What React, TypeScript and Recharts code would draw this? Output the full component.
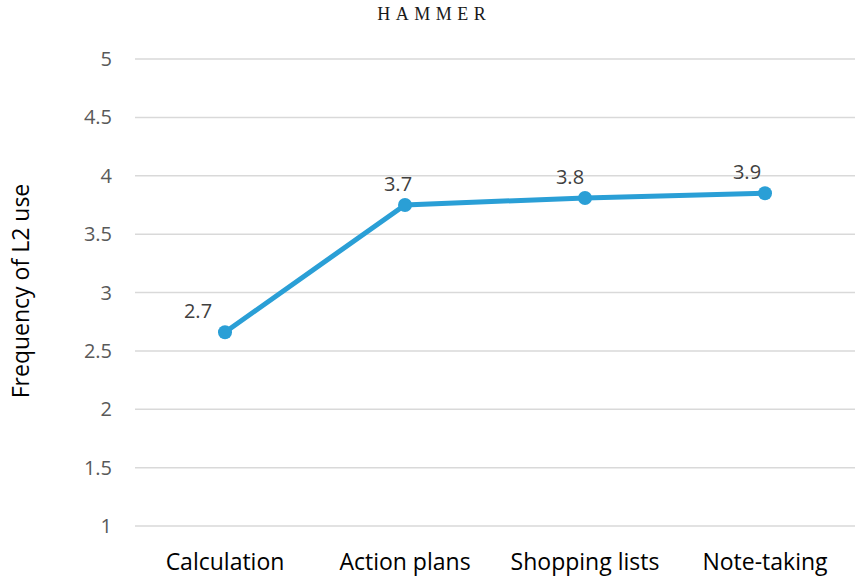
import { LineChart, Line, XAxis, YAxis, CartesianGrid, LabelList } from 'recharts';

const categories = ['Calculation', 'Action plans', 'Shopping lists', 'Note-taking'];
const frequency = [2.66, 3.75, 3.81, 3.85];
const valueLabels = ['2.7', '3.7', '3.8', '3.9'];
const yTicks = [1, 1.5, 2, 2.5, 3, 3.5, 4, 4.5, 5];

// horizontal nudge of each data label, like the original's placement
const labelShift = [-27, -7, -15, -18];

const data = categories.map((name, i) => ({ name, frequency: frequency[i], label: valueLabels[i] }));

const FONT = '"Open Sans", "Noto Sans", sans-serif';

export default function App() {
  const renderValue = (props: any) => {
    const { x, y, index } = props;
    return (
      <text
        x={x + labelShift[index]}
        y={y - 14}
        textAnchor="middle"
        fontSize={20}
        fontFamily={FONT}
        fill="#404040"
      >
        {valueLabels[index]}
      </text>
    );
  };

  const renderYLabel = () => (
    <text
      transform="translate(29, 291) rotate(-90)"
      textAnchor="middle"
      fontSize={23}
      fontFamily={FONT}
      fill="#000"
    >
      Frequency of L2 use
    </text>
  );

  return (
    <div style={{ position: 'absolute', top: 0, left: 0, width: 855, height: 577, background: '#fff' }}>
      <div
        style={{
          position: 'absolute',
          top: 5,
          left: 4,
          width: 855,
          textAlign: 'center',
          fontFamily: '"Liberation Serif", "DejaVu Serif", serif',
          fontSize: 18,
          lineHeight: '18px',
          letterSpacing: 5.5,
          paddingLeft: 5.5,
          boxSizing: 'border-box',
          color: '#1a1a1a',
        }}
      >
        HAMMER
      </div>
      <LineChart width={855} height={577} data={data} margin={{ top: 59, right: 0, left: 0, bottom: 0 }}>
        <CartesianGrid vertical={false} stroke="#d9d9d9" strokeWidth={1.5} />
        <XAxis
          dataKey="name"
          height={51}
          padding={{ left: 90, right: 90 }}
          axisLine={false}
          tickLine={false}
          tickSize={0}
          tickMargin={28}
          tick={{ fontSize: 23, fill: '#000', fontFamily: FONT }}
        />
        <YAxis
          width={135}
          domain={[1, 5]}
          ticks={yTicks}
          axisLine={false}
          tickLine={false}
          tickSize={0}
          tickMargin={23}
          tick={{ fontSize: 20, fill: '#595959', fontFamily: FONT }}
          label={renderYLabel}
        />
        <Line
          type="linear"
          dataKey="frequency"
          stroke="#2a9fd6"
          strokeWidth={5}
          dot={{ r: 7, fill: '#2a9fd6', stroke: '#2a9fd6', strokeWidth: 0 }}
          activeDot={false}
          isAnimationActive={false}
        >
          <LabelList dataKey="label" content={renderValue} />
        </Line>
      </LineChart>
    </div>
  );
}
